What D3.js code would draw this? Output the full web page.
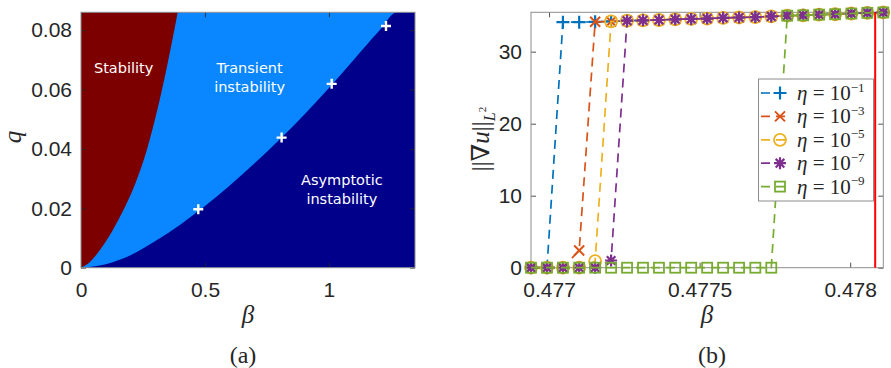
<!DOCTYPE html>
<html>
<head>
<meta charset="utf-8">
<script src="https://cdn.jsdelivr.net/npm/d3@7"></script>
<style>
  body { margin: 0; background: #fff; }
  svg { display: block; }
</style>
</head>
<body>
<svg id="chart" width="891" height="368"></svg>
<script>
// ---------- Panel (a): regime map in the (beta, q) plane ----------
const stabilityBeta  = [0, 0.025, 0.05, 0.075, 0.1, 0.15, 0.2, 0.25, 0.3, 0.35, 0.39];
const stabilityQ     = [0, 0.0012, 0.0032, 0.0058, 0.0088, 0.016, 0.0245, 0.0355, 0.0505, 0.069, 0.086];
const asymptoticBeta = [0, 0.1, 0.2, 0.3, 0.4, 0.5, 0.6, 0.7, 0.8, 0.9, 1.0, 1.1, 1.2, 1.275];
const asymptoticQ    = [0, 0.0012, 0.0042, 0.009, 0.0145, 0.0208, 0.0277, 0.0352, 0.0431, 0.0515, 0.0605, 0.07, 0.0795, 0.086];
const sampleBeta = [0.473, 0.809, 1.011, 1.230];
const sampleQ    = [0.0197, 0.0438, 0.0619, 0.0814];
const betaTicksA = [0, 0.5, 1];
const qTicks     = [0, 0.02, 0.04, 0.06, 0.08];

// ---------- Panel (b): gradient norm versus beta for several eta ----------
const betaB = [0.476940, 0.476993, 0.477046, 0.477100, 0.477153, 0.477206, 0.477259, 0.477312,
               0.477365, 0.477419, 0.477472, 0.477525, 0.477578, 0.477631, 0.477685, 0.477738,
               0.477791, 0.477844, 0.477897, 0.477950, 0.478004, 0.478057, 0.478110];
const normEta1 = [0, 0, 34.1, 34.1, 34.15, 34.2, 34.3, 34.35, 34.4, 34.5, 34.55, 34.6, 34.7, 34.75, 34.8, 34.9, 35.0, 35.05, 35.15, 35.2, 35.3, 35.4, 35.45];
const normEta3 = [0, 0, 0, 2.4, 34.15, 34.2, 34.3, 34.35, 34.4, 34.5, 34.55, 34.6, 34.7, 34.75, 34.8, 34.9, 35.0, 35.05, 35.15, 35.2, 35.3, 35.4, 35.45];
const normEta5 = [0, 0, 0, 0, 0.9, 34.2, 34.3, 34.35, 34.4, 34.5, 34.55, 34.6, 34.7, 34.75, 34.8, 34.9, 35.0, 35.05, 35.15, 35.2, 35.3, 35.4, 35.45];
const normEta7 = [0, 0, 0, 0, 0, 1.0, 34.3, 34.35, 34.4, 34.5, 34.55, 34.6, 34.7, 34.75, 34.8, 34.9, 35.0, 35.05, 35.15, 35.2, 35.3, 35.4, 35.45];
const normEta9 = [0, 0, 0, 0, 0, 0, 0, 0, 0, 0, 0, 0, 0, 0, 0, 0, 35.0, 35.05, 35.15, 35.2, 35.3, 35.4, 35.45];
const etaExponents = ["−1", "−3", "−5", "−7", "−9"];
const criticalBeta = 0.478083;
const betaTicksB = [0.477, 0.4775, 0.478];
const normTicks  = [0, 10, 20, 30];

const series = [
  { values: normEta1, color: "#0072BD", marker: "plus" },
  { values: normEta3, color: "#D95319", marker: "cross" },
  { values: normEta5, color: "#EDB120", marker: "circle" },
  { values: normEta7, color: "#7E2F8E", marker: "asterisk" },
  { values: normEta9, color: "#77AC30", marker: "square" }
];

const svg = d3.select("#chart");
const tickFont = "'Liberation Sans', Arial, sans-serif";
const mathFont = "'Liberation Serif', 'DejaVu Serif', serif";
const textColor = "#262626";
const frameColor = "#8c8c8c";

function fmt(d) { return d === 0 ? "0" : String(d); }

function drawAxes(g, x, y, xTicks, yTicks) {
  const [x0, x1] = x.range();
  const [y0, y1] = y.range();
  const styleAxis = sel => {
    sel.select(".domain").remove();
    sel.selectAll(".tick line").attr("stroke", textColor).attr("stroke-width", 0.8);
    sel.selectAll(".tick text").attr("fill", textColor)
      .style("font-family", tickFont).style("font-size", "21px");
  };
  g.append("g").attr("transform", `translate(0,${y0})`)
    .call(d3.axisBottom(x).tickValues(xTicks).tickFormat(fmt).tickSizeInner(-5).tickSizeOuter(0).tickPadding(14))
    .call(styleAxis);
  g.append("g").attr("transform", `translate(0,${y1})`)
    .call(d3.axisTop(x).tickValues(xTicks).tickFormat("").tickSizeInner(-5).tickSizeOuter(0))
    .call(styleAxis);
  g.append("g").attr("transform", `translate(${x0},0)`)
    .call(d3.axisLeft(y).tickValues(yTicks).tickFormat(fmt).tickSizeInner(-5).tickSizeOuter(0).tickPadding(9))
    .call(styleAxis);
  g.append("g").attr("transform", `translate(${x1},0)`)
    .call(d3.axisRight(y).tickValues(yTicks).tickFormat("").tickSizeInner(-5).tickSizeOuter(0))
    .call(styleAxis);
  g.append("rect")
    .attr("x", x0).attr("y", y1).attr("width", x1 - x0).attr("height", y0 - y1)
    .attr("fill", "none").attr("stroke", frameColor).attr("stroke-width", 1);
}

// ================= Panel (a) =================
const xA = d3.scaleLinear([0, 1.347], [81, 415]);
const yA = d3.scaleLinear([0, 0.086], [267.7, 12.3]);
const gA = svg.append("g");

gA.append("clipPath").attr("id", "clipA").append("rect")
  .attr("x", 81).attr("y", 12.3).attr("width", 334).attr("height", 255.4);
const regions = gA.append("g").attr("clip-path", "url(#clipA)");

// transient instability fills the background
regions.append("rect")
  .attr("x", 81).attr("y", 12.3).attr("width", 334).attr("height", 255.4)
  .attr("fill", "#0a86ff");

// stability region: left of the upper boundary
const stabPts = stabilityBeta.map((b, i) => [b, stabilityQ[i]]);
regions.append("path")
  .datum(stabPts)
  .attr("fill", "#7d0000")
  .attr("d", d3.area().curve(d3.curveMonotoneY)
    .y(d => yA(d[1])).x0(xA(0)).x1(d => xA(d[0])));

// asymptotic instability: below the lower boundary
const asymPts = asymptoticBeta.map((b, i) => [b, asymptoticQ[i]]);
asymPts.push([1.347, 0.086]);
regions.append("path")
  .datum(asymPts)
  .attr("fill", "#00008a")
  .attr("d", d3.area().curve(d3.curveMonotoneX)
    .x(d => xA(d[0])).y0(yA(0)).y1(d => yA(d[1])));

// sampled parameter pairs
sampleBeta.forEach((b, i) => {
  const cx = xA(b), cy = yA(sampleQ[i]);
  gA.append("path")
    .attr("d", `M${cx - 5},${cy}H${cx + 5}M${cx},${cy - 5}V${cy + 5}`)
    .attr("stroke", "#fff").attr("stroke-width", 2.4);
});

// region labels
const labelFont = "'DejaVu Sans', Verdana, sans-serif";
function regionText(lines, bx, qy) {
  const t = gA.append("text")
    .attr("x", xA(bx)).attr("y", yA(qy))
    .attr("text-anchor", "middle").attr("fill", "#fff")
    .style("font-family", labelFont).style("font-size", "14.5px");
  lines.forEach((l, i) => t.append("tspan").attr("x", xA(bx)).attr("dy", i === 0 ? 0 : 18.5).text(l));
}
regionText(["Stability"], 0.172, 0.0655);
regionText(["Transient", "instability"], 0.68, 0.0655);
regionText(["Asymptotic", "instability"], 1.052, 0.0278);

drawAxes(gA, xA, yA, betaTicksA, qTicks);

gA.append("text")
  .attr("transform", "translate(21,137) rotate(-90)")
  .attr("text-anchor", "middle").attr("fill", textColor)
  .style("font-family", mathFont).style("font-style", "italic").style("font-size", "25px")
  .text("q");
gA.append("text")
  .attr("x", 248).attr("y", 323)
  .attr("text-anchor", "middle").attr("fill", textColor)
  .style("font-family", mathFont).style("font-style", "italic").style("font-size", "25px")
  .text("β");
gA.append("text")
  .attr("x", 243).attr("y", 363)
  .attr("text-anchor", "middle").attr("fill", textColor)
  .style("font-family", mathFont).style("font-size", "24px")
  .text("(a)");

// ================= Panel (b) =================
const xB = d3.scaleLinear([0.47694, 0.47811], [531, 883.3]);
const yB = d3.scaleLinear([0, 35.47], [267.7, 12.3]);
const gB = svg.append("g");

drawAxes(gB, xB, yB, betaTicksB, normTicks);

function drawMarker(g, type, color, cx, cy) {
  const m = g.append("g").attr("transform", `translate(${cx},${cy})`)
    .attr("fill", "none").attr("stroke", color).attr("stroke-width", 1.8);
  if (type === "plus") {
    m.append("path").attr("d", "M-6.5,0H6.5M0,-6.5V6.5").attr("stroke-width", 2.2);
  } else if (type === "cross") {
    m.append("path").attr("d", "M-5,-5L5,5M-5,5L5,-5").attr("stroke-width", 2);
  } else if (type === "circle") {
    m.append("circle").attr("r", 6);
  } else if (type === "asterisk") {
    m.append("path").attr("d", "M-6,0H6M0,-6V6M-4.3,-4.3L4.3,4.3M-4.3,4.3L4.3,-4.3").attr("stroke-width", 2.2);
  } else if (type === "square") {
    m.append("rect").attr("x", -5).attr("y", -5).attr("width", 10).attr("height", 10);
  }
}

const lineB = d3.line().x((d, i) => xB(betaB[i])).y(d => yB(d));
series.forEach(s => {
  gB.append("path")
    .datum(s.values)
    .attr("d", lineB)
    .attr("fill", "none").attr("stroke", s.color)
    .attr("stroke-width", 1.7).attr("stroke-dasharray", "9,6");
  s.values.forEach((v, i) => drawMarker(gB, s.marker, s.color, xB(betaB[i]), yB(v)));
});

// critical value of beta
gB.append("line")
  .attr("x1", xB(criticalBeta)).attr("x2", xB(criticalBeta))
  .attr("y1", yB(0)).attr("y2", yB(35.47))
  .attr("stroke", "#ff0000").attr("stroke-width", 2);

// legend
const legend = gB.append("g");
legend.append("rect")
  .attr("x", 758.5).attr("y", 79).attr("width", 115).attr("height", 122)
  .attr("fill", "#fff").attr("stroke", frameColor).attr("stroke-width", 1);
series.forEach((s, i) => {
  const ly = 93 + i * 23.4;
  legend.append("line")
    .attr("x1", 761).attr("x2", 787).attr("y1", ly).attr("y2", ly)
    .attr("stroke", s.color).attr("stroke-width", 1.7).attr("stroke-dasharray", "9,6");
  drawMarker(legend, s.marker, s.color, 780, ly);
  const t = legend.append("text")
    .attr("x", 797).attr("y", ly + 7)
    .attr("fill", textColor)
    .style("font-family", mathFont).style("font-size", "21px");
  t.append("tspan").style("font-style", "italic").text("η");
  t.append("tspan").text(" = 10");
  t.append("tspan").attr("dy", -8.5).style("font-size", "13px").text(etaExponents[i]);
});

// axis titles
const yLab = gB.append("text")
  .attr("transform", "translate(489,139) rotate(-90)")
  .attr("text-anchor", "middle").attr("fill", textColor)
  .style("font-family", mathFont).style("font-size", "25px");
yLab.append("tspan").text("||∇");
yLab.append("tspan").style("font-style", "italic").text("u");
yLab.append("tspan").text("||");
yLab.append("tspan").attr("dy", 6).style("font-style", "italic").style("font-size", "16px").text("L");
yLab.append("tspan").attr("dy", -9).style("font-size", "11px").text("2");

gB.append("text")
  .attr("x", 707).attr("y", 323)
  .attr("text-anchor", "middle").attr("fill", textColor)
  .style("font-family", mathFont).style("font-style", "italic").style("font-size", "25px")
  .text("β");
gB.append("text")
  .attr("x", 712).attr("y", 363)
  .attr("text-anchor", "middle").attr("fill", textColor)
  .style("font-family", mathFont).style("font-size", "24px")
  .text("(b)");
</script>
</body>
</html>
